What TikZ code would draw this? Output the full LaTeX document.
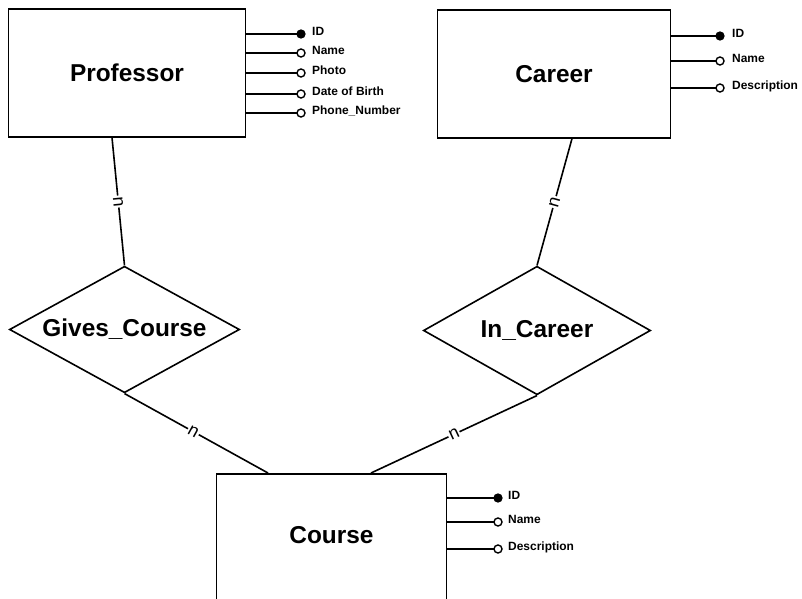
\documentclass[tikz,border=0pt]{standalone}
\usepackage{fontspec}
\setmainfont{Liberation Sans}
\usetikzlibrary{shapes.geometric,calc}
\begin{document}
\begin{tikzpicture}[x=1bp,y=-1bp,
  entity/.style={draw, line width=1.7bp, rectangle, inner sep=0pt,
    font=\fontsize{24.5}{28}\selectfont\bfseries},
  ename/.style={font=\fontsize{24.5}{28}\selectfont\bfseries, inner sep=0pt},
  relation/.style={draw, line width=1.6bp, diamond, aspect=1.8, inner sep=0pt,
    font=\fontsize{24.5}{28}\selectfont\bfseries},
  link/.style={line width=1.6bp},
  keyattr/.style={circle, fill=black, draw, line width=1.2bp, minimum size=8bp, inner sep=0pt},
  attr/.style={circle, fill=white, draw, line width=1.4bp, minimum size=8bp, inner sep=0pt},
  atext/.style={font=\fontsize{12}{14}\selectfont\bfseries, anchor=base west, inner sep=0pt},
  card/.style={font=\fontsize{18}{20}\selectfont, fill=white, inner sep=1bp, sloped}
]
\clip (0,0) rectangle (802,599);
\fill[white] (0,0) rectangle (802,599);

% entities
\node[entity, minimum width=238, minimum height=128] (prof) at (127,73) {Professor};
\node[entity, minimum width=234, minimum height=128] (career) at (554,74) {Career};
\node[entity, minimum width=231, minimum height=200, anchor=north] (course) at (331.5,473) {};
\node[ename] (coursename) at (331.5,535) {Course};

% relationships
\node[relation, minimum width=231, minimum height=127] (gives) at (124.5,329.5) {Gives\_Course};
\node[relation, minimum width=228, minimum height=129] (incareer) at (537,330.5) {In\_Career};

% attributes of Professor
\foreach \y/\t/\s [count=\i] in {34/ID/keyattr, 53/Name/attr, 73/Photo/attr,
    94/Date of Birth/attr, 113/Phone\_Number/attr} {
  \draw[link] (prof.east |- 0,\y) -- (301,\y) node[\s] (pa\i) {};
  \node[atext] (pt\i) at (312,{\y+1.5}) {\t};
}

% attributes of Career
\foreach \y/\t/\s [count=\i] in {36/ID/keyattr, 61/Name/attr, 88/Description/attr} {
  \draw[link] (career.east |- 0,\y) -- (720,\y) node[\s] (ca\i) {};
  \node[atext] (ct\i) at (732,{\y+1.5}) {\t};
}

% attributes of Course
\foreach \y/\t/\s [count=\i] in {498/ID/keyattr, 522/Name/attr, 549/Description/attr} {
  \draw[link] (course.east |- 0,\y) -- (498,\y) node[\s] (oa\i) {};
  \node[atext] (ot\i) at (508,{\y+1.5}) {\t};
}

% relationship links with cardinalities
\draw[link] ($(prof.south)+(-15,0)$) -- node[card] (c1) {n} (gives.north);
\draw[link] ($(career.south)+(18,0)$) -- node[card] (c2) {n} (incareer.north);
\draw[link] (gives.south) -- node[card, pos=0.48] (c3) {n} ($(course.north)+(-63.5,0)$);
\draw[link] (incareer.south) -- node[card] (c4) {n} ($(course.north)+(39.5,0)$);
\end{tikzpicture}
\end{document}
